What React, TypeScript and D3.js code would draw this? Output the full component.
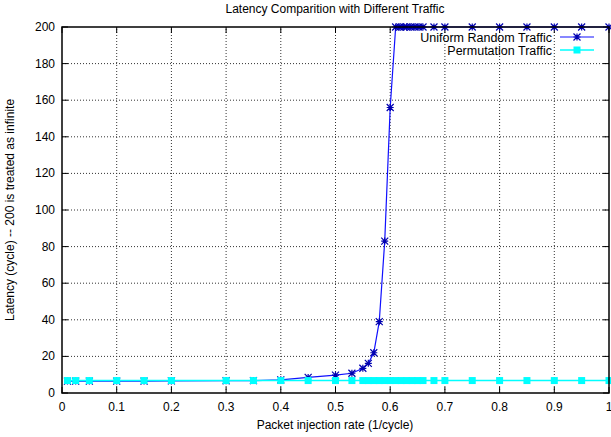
import { useEffect, useRef } from 'react';
import * as d3 from 'd3';

const W = 611;
const H = 437;

// Uniform random traffic
const uniformRate = [0.01, 0.025, 0.05, 0.1, 0.15, 0.2, 0.3, 0.35, 0.4, 0.45, 0.5, 0.53, 0.55, 0.56, 0.57, 0.58, 0.59, 0.6, 0.61, 0.6175, 0.625, 0.63, 0.6375, 0.645, 0.6525, 0.66, 0.68, 0.7, 0.75, 0.8, 0.85, 0.9, 0.95, 1.0];
const uniformLatency = [6.5, 6.5, 6.5, 6.5, 6.5, 6.6, 6.7, 6.8, 7.2, 8.5, 9.8, 10.8, 13.5, 16.2, 22, 39, 83, 156, 200, 200, 200, 200, 200, 200, 200, 200, 200, 200, 200, 200, 200, 200, 200, 200];

// Permutation traffic
const permRate = [0.01, 0.025, 0.05, 0.1, 0.15, 0.2, 0.3, 0.35, 0.4, 0.45, 0.5, 0.53, 0.55, 0.56, 0.57, 0.58, 0.59, 0.6, 0.61, 0.62, 0.63, 0.64, 0.65, 0.66, 0.68, 0.7, 0.75, 0.8, 0.85, 0.9, 0.95, 1.0];
const permLatency = [6.8, 6.8, 6.8, 6.8, 6.8, 6.8, 6.8, 6.8, 6.8, 6.8, 6.8, 6.8, 6.8, 6.8, 6.8, 6.8, 6.8, 6.8, 6.8, 6.8, 6.8, 6.8, 6.8, 6.8, 6.8, 6.8, 6.8, 6.8, 6.8, 6.8, 6.8, 6.8];

const xTicks = [0, 0.1, 0.2, 0.3, 0.4, 0.5, 0.6, 0.7, 0.8, 0.9, 1];
const yTicks = [0, 20, 40, 60, 80, 100, 120, 140, 160, 180, 200];

const FONT = 'Liberation Sans, Arial, sans-serif';

export default function App() {
  const ref = useRef<SVGSVGElement | null>(null);

  useEffect(() => {
    if (!ref.current) return;
    const svg = d3.select(ref.current);
    svg.selectAll('*').remove();

    const x = d3.scaleLinear().domain([0, 1]).range([62, 609]);
    const y = d3.scaleLinear().domain([0, 200]).range([393, 27]);
    const [x0, x1] = x.range();
    const [y0, y1] = y.range();

    // grid
    const grid = svg.append('g').attr('stroke', '#333').attr('stroke-width', 1).attr('stroke-dasharray', '1,2');
    xTicks.slice(1, -1).forEach((t) => {
      grid.append('line').attr('x1', x(t)).attr('x2', x(t)).attr('y1', y0).attr('y2', y1);
    });
    yTicks.slice(1, -1).forEach((t) => {
      grid.append('line').attr('x1', x0).attr('x2', x1).attr('y1', y(t)).attr('y2', y(t));
    });

    // ticks (inward, mirrored)
    const ticks = svg.append('g').attr('stroke', '#000').attr('stroke-width', 1);
    xTicks.forEach((t) => {
      ticks.append('line').attr('x1', x(t)).attr('x2', x(t)).attr('y1', y0).attr('y2', y0 - 6);
      ticks.append('line').attr('x1', x(t)).attr('x2', x(t)).attr('y1', y1).attr('y2', y1 + 6);
    });
    yTicks.forEach((t) => {
      ticks.append('line').attr('x1', x0).attr('x2', x0 + 6).attr('y1', y(t)).attr('y2', y(t));
      ticks.append('line').attr('x1', x1).attr('x2', x1 - 6).attr('y1', y(t)).attr('y2', y(t));
    });

    // tick labels
    const lab = svg.append('g').attr('font-family', FONT).attr('font-size', 12).attr('fill', '#000');
    xTicks.forEach((t) => {
      lab.append('text').attr('x', x(t)).attr('y', y0 + 18).attr('text-anchor', 'middle').text(String(+t.toFixed(1)));
    });
    yTicks.forEach((t) => {
      lab.append('text').attr('x', x0 - 7).attr('y', y(t) + 4).attr('text-anchor', 'end').text(String(t));
    });

    const line = d3.line<[number, number]>().x((d) => x(d[0])).y((d) => y(d[1]));
    const uData = uniformRate.map((r, i) => [r, uniformLatency[i]] as [number, number]);
    const pData = permRate.map((r, i) => [r, permLatency[i]] as [number, number]);

    const star = (g: d3.Selection<SVGGElement, unknown, null, undefined>, cx: number, cy: number) => {
      const s = 3.5;
      g.append('path')
        .attr('d', `M${cx - s},${cy}H${cx + s}M${cx},${cy - s}V${cy + s}M${cx - s},${cy - s}L${cx + s},${cy + s}M${cx - s},${cy + s}L${cx + s},${cy - s}`)
        .attr('stroke', '#0000b0')
        .attr('stroke-width', 1.2)
        .attr('fill', 'none');
    };
    const square = (g: d3.Selection<SVGGElement, unknown, null, undefined>, cx: number, cy: number) => {
      g.append('rect').attr('x', cx - 3.5).attr('y', cy - 3.5).attr('width', 7).attr('height', 7).attr('fill', '#00ffff');
    };

    const gu = svg.append('g');
    gu.append('path').attr('d', line(uData)).attr('fill', 'none').attr('stroke', '#1010ff').attr('stroke-width', 1.2);
    uData.forEach((d) => star(gu, x(d[0]), y(d[1])));

    const gp = svg.append('g');
    gp.append('path').attr('d', line(pData)).attr('fill', 'none').attr('stroke', '#00ffff').attr('stroke-width', 1.5);
    pData.forEach((d) => square(gp, x(d[0]), y(d[1])));

    // border
    svg.append('rect').attr('x', x0).attr('y', y1).attr('width', x1 - x0).attr('height', y0 - y1)
      .attr('fill', 'none').attr('stroke', '#000').attr('stroke-width', 1.5);

    // legend
    const lg = svg.append('g').attr('font-family', FONT).attr('font-size', 12.5);
    const ly1 = 37;
    const ly2 = 50;
    lg.append('text').attr('x', 552).attr('y', ly1 + 4.5).attr('text-anchor', 'end').text('Uniform Random Traffic');
    lg.append('text').attr('x', 552).attr('y', ly2 + 4.5).attr('text-anchor', 'end').text('Permutation Traffic');
    const lgm = svg.append('g');
    lgm.append('line').attr('x1', 560).attr('x2', 594).attr('y1', ly1).attr('y2', ly1).attr('stroke', '#1010ff').attr('stroke-width', 1.2);
    star(lgm, 577, ly1);
    lgm.append('line').attr('x1', 560).attr('x2', 594).attr('y1', ly2).attr('y2', ly2).attr('stroke', '#00ffff').attr('stroke-width', 1.5);
    square(lgm, 577, ly2);

    // titles
    const tt = svg.append('g').attr('font-family', FONT).attr('font-size', 12).attr('fill', '#000');
    tt.append('text').attr('x', 335).attr('y', 13).attr('text-anchor', 'middle').text('Latency Comparition with Different Traffic');
    tt.append('text').attr('x', 335).attr('y', 429).attr('text-anchor', 'middle').text('Packet injection rate (1/cycle)');
    tt.append('text').attr('transform', `translate(14,${(y0 + y1) / 2}) rotate(-90)`).attr('text-anchor', 'middle')
      .text('Latency (cycle) -- 200 is treated as infinite');
  }, []);

  return (
    <svg ref={ref} width={W} height={H} style={{ position: 'absolute', left: 0, top: 0, background: '#fff' }} />
  );
}
